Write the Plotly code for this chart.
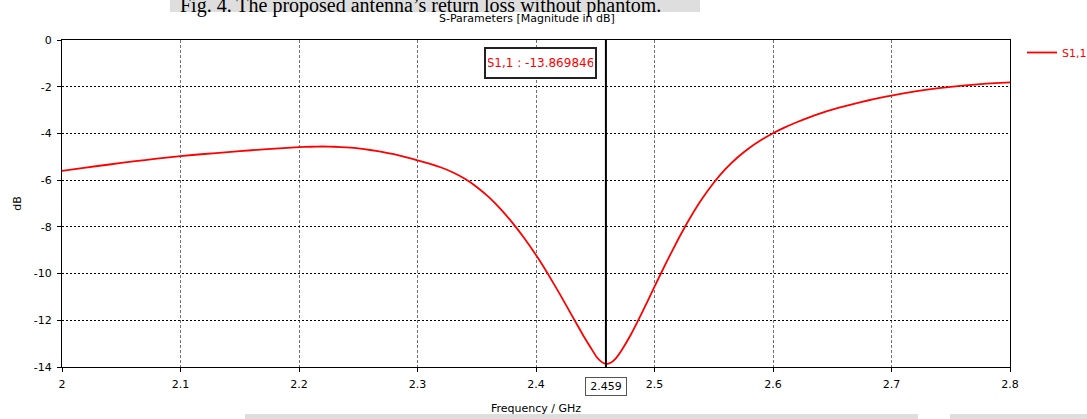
import plotly.graph_objects as go

# ---- data ----
freq_ghz = [2.00, 2.02, 2.04, 2.06, 2.08, 2.10, 2.12, 2.14, 2.16, 2.18,
            2.20, 2.21, 2.22, 2.23, 2.24, 2.25, 2.26, 2.27, 2.28, 2.29,
            2.30, 2.31, 2.32, 2.33, 2.34, 2.35, 2.36, 2.37, 2.38, 2.39,
            2.40, 2.41, 2.42, 2.43, 2.44, 2.447, 2.451, 2.455, 2.459, 2.463,
            2.467, 2.472, 2.48, 2.49, 2.50, 2.51, 2.52, 2.53, 2.54, 2.55, 2.56,
            2.57, 2.58, 2.59, 2.60, 2.61, 2.62, 2.63, 2.64, 2.65, 2.66,
            2.67, 2.68, 2.69, 2.70, 2.72, 2.74, 2.76, 2.78, 2.80]
s11_db = [-5.60, -5.46, -5.33, -5.20, -5.08, -4.97, -4.88, -4.80, -4.72, -4.65,
          -4.59, -4.57, -4.56, -4.57, -4.60, -4.64, -4.71, -4.79, -4.89, -5.01,
          -5.15, -5.29, -5.46, -5.67, -5.94, -6.29, -6.72, -7.23, -7.82, -8.48,
          -9.21, -10.01, -10.87, -11.77, -12.66, -13.24, -13.56, -13.77, -13.87, -13.82,
          -13.65, -13.30, -12.62, -11.62, -10.56, -9.52, -8.53, -7.62, -6.81, -6.11, -5.52,
          -5.03, -4.62, -4.28, -3.99, -3.74, -3.52, -3.32, -3.14, -2.98, -2.84,
          -2.71, -2.59, -2.48, -2.38, -2.20, -2.06, -1.95, -1.87, -1.81]
marker_freq = 2.459
marker_value = -13.869846
x_ticks = [2.0, 2.1, 2.2, 2.3, 2.4, 2.5, 2.6, 2.7, 2.8]
x_tick_labels = ["2", "2.1", "2.2", "2.3", "2.4", "2.5", "2.6", "2.7", "2.8"]
y_ticks = [0, -2, -4, -6, -8, -10, -12, -14]
y_tick_labels = ["0", "-2", "-4", "-6", "-8", "-10", "-12", "-14"]
series_name = "S1,1"
caption = "Fig. 4. The proposed antenna\u2019s return loss without phantom."
title = "S-Parameters [Magnitude in dB]"

W, H = 1087, 419
L, R, T, B = 62, 77, 40, 52
PW, PH = W - L - R, H - T - B

def px(xp):
    return (xp - L) / PW

def py(yp):
    return 1 - (yp - T) / PH

font = "DejaVu Sans"

fig = go.Figure()
fig.add_trace(go.Scatter(
    x=freq_ghz, y=s11_db, mode="lines", name=series_name,
    line=dict(color="#ff0000", width=1.8, shape="spline", smoothing=0.4),
))

shapes = [
    # background watermark bands
    dict(type="rect", xref="paper", yref="paper", x0=px(170), x1=px(700), y0=py(0), y1=py(12),
         fillcolor="#dedede", line=dict(width=0), layer="below"),
    dict(type="rect", xref="paper", yref="paper", x0=px(245), x1=px(918), y0=py(414), y1=py(419),
         fillcolor="#dedede", line=dict(width=0), layer="below"),
    dict(type="rect", xref="paper", yref="paper", x0=px(950), x1=px(1087), y0=py(414), y1=py(419),
         fillcolor="#dedede", line=dict(width=0), layer="below"),
    # marker line
    dict(type="line", xref="x", yref="paper", x0=marker_freq, x1=marker_freq, y0=0, y1=1,
         line=dict(color="black", width=2)),
]

annotations = [
    dict(text=caption, xref="paper", yref="paper", x=px(420), y=py(19), xanchor="center",
         yanchor="bottom", showarrow=False,
         font=dict(family="Liberation Serif", size=20, color="black")),
    dict(text=title, xref="paper", yref="paper", x=px(527), y=py(18), xanchor="center",
         yanchor="middle", showarrow=False,
         font=dict(family=font, size=11, color="black")),
    dict(text=f"{series_name} : {marker_value:.6f}", xref="x", yref="paper",
         x=marker_freq, y=1, xanchor="right", yanchor="top", xshift=-9, yshift=-7,
         showarrow=False, bgcolor="white", bordercolor="#222", borderwidth=2, borderpad=2,
         width=105, height=24,
         font=dict(family=font, size=12, color="#ff0000")),
    dict(text=f"{marker_freq:.3f}", xref="x", yref="paper", x=marker_freq, y=0,
         xanchor="center", yanchor="top", yshift=-10, showarrow=False,
         bgcolor="white", bordercolor="#555", borderwidth=1, borderpad=1,
         width=38, height=15,
         font=dict(family=font, size=11, color="black")),
]

fig.update_layout(
    width=W, height=H,
    margin=dict(l=L, r=R, t=T, b=B, autoexpand=False),
    paper_bgcolor="white", plot_bgcolor="white",
    font=dict(family=font, size=11, color="black"),
    shapes=shapes, annotations=annotations,
    showlegend=True,
    legend=dict(x=px(1022), y=py(38), xanchor="left", yanchor="top",
                bgcolor="rgba(0,0,0,0)", font=dict(family=font, size=11, color="#ff0000"),
                itemwidth=30),
    xaxis=dict(
        range=[2.0, 2.8], tickvals=x_ticks, ticktext=x_tick_labels,
        showline=True, linecolor="black", linewidth=1, mirror=True,
        ticks="outside", ticklen=4, tickcolor="black", ticklabelstandoff=3,
        showgrid=True, gridcolor="#707070", griddash="3px,2px", gridwidth=1,
        zeroline=False, automargin=False,
        title=dict(text="Frequency / GHz", font=dict(family=font, size=11), standoff=14),
    ),
    yaxis=dict(
        range=[-14, 0], tickvals=y_ticks, ticktext=y_tick_labels,
        showline=True, linecolor="black", linewidth=1, mirror=True,
        ticks="outside", ticklen=4, tickcolor="black", ticklabelstandoff=3,
        showgrid=True, gridcolor="black", griddash="2px,2px", gridwidth=1,
        zeroline=False, automargin=False,
        title=dict(text="dB", font=dict(family=font, size=11), standoff=9),
    ),
)

fig.write_html("out.html", config={"displayModeBar": False},
               post_script="document.body.style.margin='0';")
